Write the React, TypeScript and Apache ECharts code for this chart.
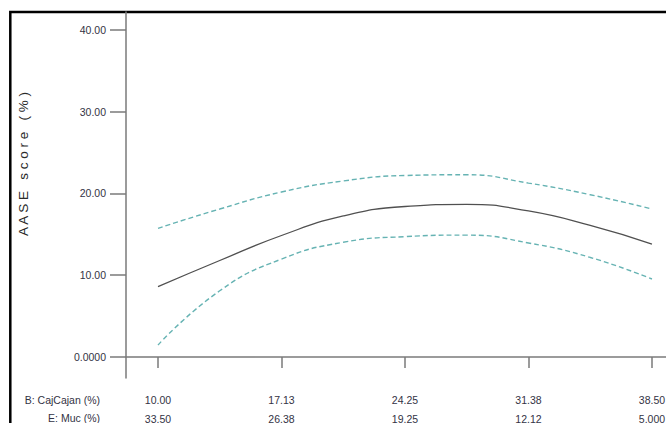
import React, { useEffect, useRef } from "react";
import * as echarts from "echarts";

// B: CajCajan (%) positions where the curves were read
const cajanValues = [10, 13.5625, 17.125, 20.6875, 24.25, 27.8125, 31.375, 34.9375, 38.5];
const predicted = [8.6, 11.8, 14.86, 17.25, 18.41, 18.68, 17.86, 16.09, 13.82];
const upperCI = [15.74, 18.1, 20.18, 21.53, 22.2, 22.29, 21.27, 19.85, 18.1];
const lowerCI = [1.47, 8.1, 11.98, 14.03, 14.72, 14.91, 13.95, 12.18, 9.54];

const xTickValues = [10, 17.125, 24.25, 31.375, 38.5];
const xLabelsB = ["10.00", "17.13", "24.25", "31.38", "38.50"];
const xLabelsE = ["33.50", "26.38", "19.25", "12.12", "5.000"];
const yTickValues = [0, 10, 20, 30, 40];
const yLabels = ["0.0000", "10.00", "20.00", "30.00", "40.00"];

const FONT = "'Liberation Sans', Arial, sans-serif";
const AXIS_COLOR = "#7a7a7a";
const TEXT_COLOR = "#333344";
const CI_COLOR = "#66b3b3";

function nearestIndex(arr: number[], v: number) {
  let best = 0;
  for (let i = 1; i < arr.length; i++) {
    if (Math.abs(arr[i] - v) < Math.abs(arr[best] - v)) best = i;
  }
  return best;
}

export default function App() {
  const ref = useRef<HTMLDivElement>(null);

  useEffect(() => {
    document.body.style.margin = "0";
    if (!ref.current) return;
    const chart = echarts.init(ref.current, null, { renderer: "svg" });
    const pairs = (ys: number[]) => cajanValues.map((x, i) => [x, ys[i]]);
    chart.setOption({
      animation: false,
      backgroundColor: "#ffffff",
      grid: {
        left: 126,
        top: 12,
        right: 0,
        bottom: 45,
        containLabel: false,
        outerBoundsMode: "none",
      },
      xAxis: {
        type: "value",
        min: 8.154,
        max: 39.31,
        splitLine: { show: false },
        axisLine: { show: true, lineStyle: { color: AXIS_COLOR, width: 1.5 } },
        axisTick: {
          show: true,
          customValues: xTickValues,
          length: 11,
          lineStyle: { color: AXIS_COLOR, width: 1.5 },
        },
        axisLabel: {
          customValues: xTickValues,
          margin: 12,
          fontFamily: FONT,
          fontSize: 10.5,
          color: TEXT_COLOR,
          lineHeight: 19,
          hideOverlap: false,
          formatter: (v: number) => {
            const i = nearestIndex(xTickValues, v);
            return xLabelsB[i] + "\n" + xLabelsE[i];
          },
        },
      },
      yAxis: {
        type: "value",
        min: -2.57,
        max: 42.2,
        splitLine: { show: false },
        axisLine: { show: true, lineStyle: { color: AXIS_COLOR, width: 1.5 } },
        axisTick: {
          show: true,
          customValues: yTickValues,
          length: 16,
          lineStyle: { color: AXIS_COLOR, width: 1.5 },
        },
        axisLabel: {
          customValues: yTickValues,
          margin: 20,
          fontFamily: FONT,
          fontSize: 10.5,
          color: TEXT_COLOR,
          formatter: (v: number) => yLabels[nearestIndex(yTickValues, v)],
        },
      },
      graphic: [
        {
          type: "rect",
          shape: { x: 10.3, y: 12, width: 800, height: 600 },
          style: { fill: "none", stroke: "#000", lineWidth: 2.5 },
          silent: true,
        },
        {
          type: "text",
          x: 23,
          y: 164,
          rotation: Math.PI / 2,
          style: {
            text: "A A S E   s c o r e   ( % )",
            fontFamily: FONT,
            fontSize: 13.5,
            fill: "#2a2a2a",
            textAlign: "center",
            textVerticalAlign: "middle",
          },
        },
        {
          type: "text",
          x: 100,
          y: 400,
          style: {
            text: "B: CajCajan (%)",
            fontFamily: FONT,
            fontSize: 10.5,
            fill: TEXT_COLOR,
            textAlign: "right",
            textVerticalAlign: "middle",
          },
        },
        {
          type: "text",
          x: 100,
          y: 418,
          style: {
            text: "E: Muc (%)",
            fontFamily: FONT,
            fontSize: 10.5,
            fill: TEXT_COLOR,
            textAlign: "right",
            textVerticalAlign: "middle",
          },
        },
      ],
      series: [
        {
          name: "Predicted",
          type: "line",
          data: pairs(predicted),
          smooth: 0.5,
          showSymbol: false,
          lineStyle: { color: "#505050", width: 1.3 },
        },
        {
          name: "Upper 95% CI",
          type: "line",
          data: pairs(upperCI),
          smooth: 0.5,
          showSymbol: false,
          lineStyle: { color: CI_COLOR, width: 1.4, type: [5, 3] },
        },
        {
          name: "Lower 95% CI",
          type: "line",
          data: pairs(lowerCI),
          smooth: 0.5,
          showSymbol: false,
          lineStyle: { color: CI_COLOR, width: 1.4, type: [5, 3] },
        },
      ],
    });
    return () => chart.dispose();
  }, []);

  return <div ref={ref} style={{ width: 666, height: 423 }} />;
}
